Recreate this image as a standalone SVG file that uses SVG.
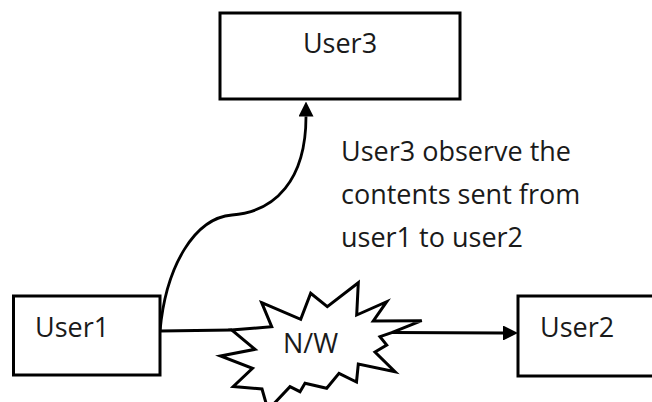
<svg xmlns="http://www.w3.org/2000/svg" width="652" height="402" viewBox="0 0 652 402">
<style>
.box{fill:#fff;stroke:#000;stroke-width:3}
.t{font-family:"Open Sans","Noto Sans",sans-serif;font-size:27px;fill:#1a1a1a}
.ln{fill:none;stroke:#000;stroke-width:2.8}
</style>
<defs>
<marker id="ah" viewBox="0 0 15 15" refX="0" refY="7.5" markerWidth="15" markerHeight="15" markerUnits="userSpaceOnUse" orient="auto">
<path d="M0,0 L15,7.5 L0,15 z" fill="#000"/>
</marker>
</defs>
<rect width="652" height="402" fill="#fff"/>
<g id="connectors">
<path class="ln" d="M160,331 C166,265 195,218 232,215 C275,212 306,180 306,116.5" marker-end="url(#ah)"/>
<path class="ln" d="M160,331 L232,330"/>
<path class="ln" d="M392,332.5 L503,333" marker-end="url(#ah)"/>
</g>
<g id="user3">
<rect class="box" x="220" y="13" width="240" height="86"/>
<text class="t" x="340" y="53" text-anchor="middle">User3</text>
</g>
<g id="user1">
<rect class="box" x="13.5" y="296" width="146.5" height="79"/>
<text class="t" x="35" y="337">User1</text>
</g>
<g id="user2">
<rect class="box" x="518" y="296" width="145" height="80"/>
<text class="t" x="540" y="337">User2</text>
</g>
<g id="nw">
<polygon class="box" stroke-width="2.7" stroke-linejoin="miter" points="261.7,302.7 300.7,319.3 310.7,293.3 327.3,306.7 358.3,282.7 356.7,315 386.7,301.7 373.3,321 421.7,320.7 391.7,332.7 380,336.7 386.7,345 375,352 395,371.7 358.3,364 356.5,382 339,373.3 326.7,388.3 305,383.3 300,391.7 290,386.7 268,410 262,389 233.3,386.5 252.5,368.3 220.5,356 255,349.3 231.7,330 271.7,326.7"/>
<text class="t" x="310.5" y="353" text-anchor="middle">N/W</text>
</g>
<g id="note">
<text class="t" x="341" y="161">User3 observe the</text>
<text class="t" x="341" y="204">contents sent from</text>
<text class="t" x="341" y="247">user1 to user2</text>
</g>
</svg>
